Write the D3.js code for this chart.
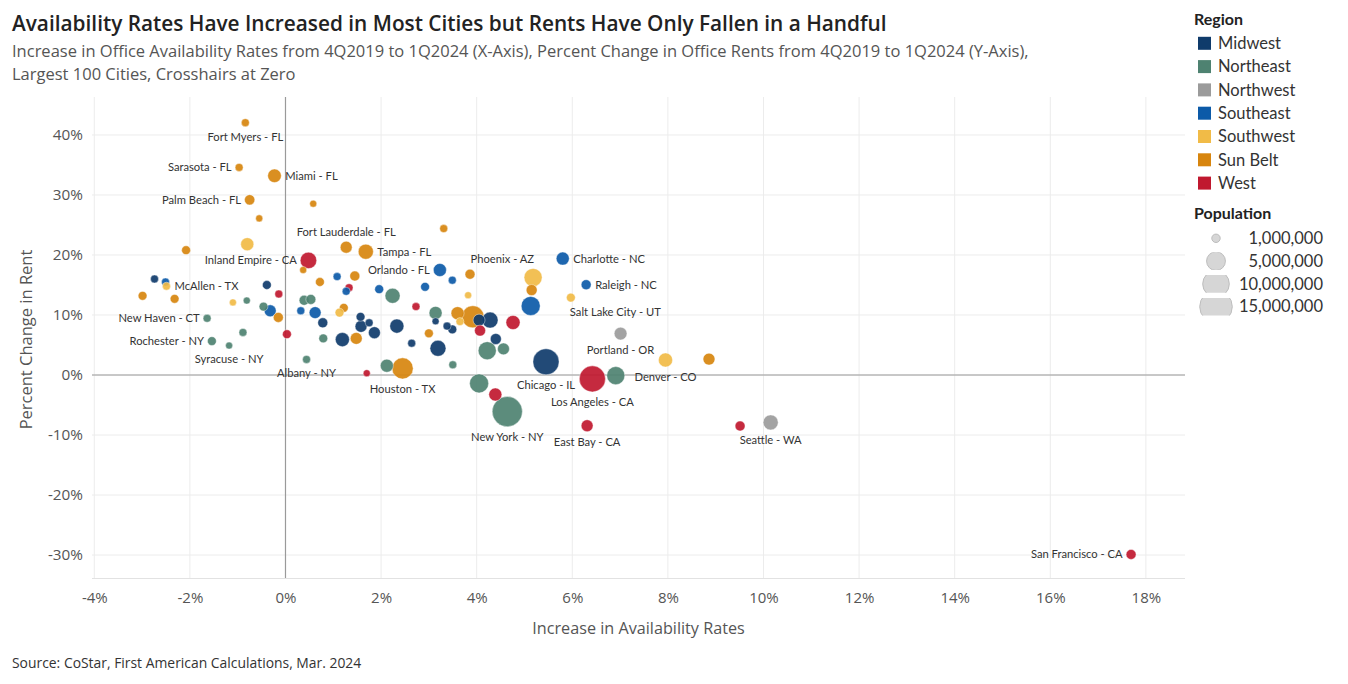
<!DOCTYPE html>
<html>
<head>
<meta charset="utf-8">
<script src="https://cdn.jsdelivr.net/npm/d3@7"></script>
<style>
  html, body { margin: 0; padding: 0; background: #fff; }
  svg { display: block; font-family: Lato, "Open Sans", sans-serif; }
</style>
</head>
<body>
<svg id="chart" width="1348" height="684"></svg>
<script>
// ---------------- DATA ----------------
const regionNames = ["Midwest", "Northeast", "Northwest", "Southeast", "Southwest", "Sun Belt", "West"];
const regionColors = ["#0f3b6b", "#4e8271", "#9b9b9b", "#0c5aa8", "#f1bb47", "#d7850e", "#c0182f"];

const cities = [
  "Fort Myers - FL", "Sarasota - FL", "Miami - FL", "Palm Beach - FL", "", "", "", "", "Inland Empire - CA", "",
  "", "", "McAllen - TX", "", "", "", "", "", "", "",
  "", "", "New Haven - CT", "", "Rochester - NY", "Syracuse - NY", "", "Albany - NY", "", "",
  "", "", "", "", "", "", "", "Fort Lauderdale - FL", "Tampa - FL", "",
  "", "", "", "", "", "", "", "", "", "",
  "", "", "", "", "", "Houston - TX", "", "", "Orlando - FL", "",
  "", "", "", "", "", "", "", "", "", "",
  "", "", "", "", "", "", "", "", "", "",
  "", "", "New York - NY", "Phoenix - AZ", "", "", "Charlotte - NC", "Raleigh - NC", "Salt Lake City - UT", "Portland - OR",
  "Chicago - IL", "Los Angeles - CA", "", "Denver - CO", "", "East Bay - CA", "", "Seattle - WA", "San Francisco - CA"
];
const regions = [
  "Sun Belt", "Sun Belt", "Sun Belt", "Sun Belt", "Sun Belt", "Sun Belt", "Southwest", "Sun Belt", "West", "Sun Belt",
  "Midwest", "Southeast", "Southwest", "Sun Belt", "Sun Belt", "Midwest", "West", "Southwest", "Northeast", "Northeast",
  "Southeast", "Sun Belt", "Northeast", "Northeast", "Northeast", "Northeast", "West", "Northeast", "Northeast", "Northeast",
  "Southeast", "Southeast", "Midwest", "Northeast", "Sun Belt", "Southeast", "Sun Belt", "Sun Belt", "Sun Belt", "West",
  "Southeast", "Southeast", "Northeast", "West", "Sun Belt", "Southwest", "Midwest", "Midwest", "Midwest", "Midwest",
  "Midwest", "Midwest", "Sun Belt", "Midwest", "Northeast", "Sun Belt", "West", "Sun Belt", "Southeast", "Sun Belt",
  "Southeast", "Southeast", "Southwest", "Northeast", "Midwest", "Sun Belt", "Sun Belt", "Southwest", "Midwest", "Midwest",
  "West", "West", "Midwest", "Midwest", "Sun Belt", "Midwest", "Midwest", "Northeast", "Northeast", "Northeast",
  "Northeast", "West", "Northeast", "Southwest", "Sun Belt", "Southeast", "Southeast", "Southeast", "Southwest", "Northwest",
  "Midwest", "West", "Northeast", "Southwest", "Sun Belt", "West", "West", "Northwest", "West"
];
// Increase in availability rate (percentage points)
const availChange = [
  -0.84, -0.97, -0.23, -0.75, 0.58, -0.55, -0.80, -2.08, 0.48, 0.37,
  -2.74, -2.51, -2.49, -2.99, -2.32, -0.39, -0.14, -1.10, -0.81, -0.46,
  -0.32, -0.15, -1.64, -0.89, -1.54, -1.18, 0.03, 0.44, 0.39, 0.53,
  0.32, 0.62, 0.78, 0.79, 0.72, 1.08, 1.45, 1.27, 1.68, 1.33,
  1.27, 1.96, 2.24, 2.73, 1.22, 1.13, 1.57, 1.75, 1.58, 1.86,
  2.33, 1.19, 1.48, 2.64, 2.12, 2.45, 1.70, 3.31, 3.23, 3.86,
  3.49, 2.92, 3.82, 3.14, 3.14, 3.60, 3.92, 3.65, 4.05, 4.28,
  4.07, 4.76, 3.38, 3.49, 3.00, 3.19, 4.40, 4.22, 4.56, 3.50,
  4.05, 4.39, 4.64, 5.18, 5.15, 5.13, 5.80, 6.29, 5.97, 7.01,
  5.45, 6.42, 6.91, 7.95, 8.86, 6.31, 9.51, 10.15, 17.69
];
// Percent change in office rents
const rentChange = [
  42.05, 34.6, 33.2, 29.2, 28.55, 26.1, 21.8, 20.8, 19.1, 17.5,
  16.0, 15.5, 14.8, 13.2, 12.7, 15.0, 13.5, 12.1, 12.4, 11.4,
  10.7, 9.6, 9.45, 7.1, 5.65, 4.9, 6.8, 2.6, 12.45, 12.6,
  10.7, 10.4, 8.7, 6.1, 15.5, 16.4, 16.5, 21.3, 20.55, 14.55,
  13.95, 14.3, 13.2, 11.4, 11.2, 10.4, 9.7, 8.7, 8.1, 7.05,
  8.15, 5.9, 6.1, 5.3, 1.55, 1.1, 0.3, 24.4, 17.5, 16.8,
  15.8, 14.7, 13.3, 10.35, 8.95, 10.3, 9.7, 8.9, 9.15, 9.15,
  7.4, 8.75, 8.15, 7.6, 6.95, 4.45, 6.0, 4.05, 4.35, 1.7,
  -1.4, -3.25, -6.1, 16.25, 14.15, 11.5, 19.4, 15.05, 12.9, 6.9,
  2.2, -0.65, -0.1, 2.5, 2.65, -8.45, -8.5, -7.9, -29.9
];
// Population
const population = [
  0.9e6, 0.9e6, 2.6e6, 1.5e6, 0.7e6, 0.7e6, 2.4e6, 1.1e6, 3.8e6, 0.7e6,
  0.9e6, 0.9e6, 0.9e6, 1.1e6, 1.1e6, 1.1e6, 0.9e6, 0.7e6, 0.7e6, 1.1e6,
  2.0e6, 1.4e6, 0.9e6, 0.9e6, 1.1e6, 0.7e6, 1.1e6, 0.9e6, 1.4e6, 1.4e6,
  0.9e6, 2.0e6, 1.4e6, 1.1e6, 1.1e6, 0.9e6, 1.4e6, 2.0e6, 3.2e6, 0.9e6,
  0.9e6, 1.1e6, 3.2e6, 0.9e6, 1.1e6, 1.1e6, 1.1e6, 0.9e6, 2.0e6, 2.0e6,
  2.8e6, 2.8e6, 2.0e6, 0.9e6, 2.4e6, 6.3e6, 0.7e6, 0.9e6, 2.4e6, 1.4e6,
  0.9e6, 1.1e6, 0.7e6, 2.4e6, 0.7e6, 2.4e6, 6.9e6, 0.9e6, 2.0e6, 3.6e6,
  1.7e6, 2.8e6, 0.9e6, 1.1e6, 1.1e6, 3.6e6, 1.7e6, 4.6e6, 2.0e6, 0.9e6,
  5.1e6, 2.4e6, 12.8e6, 4.6e6, 1.7e6, 5.1e6, 2.4e6, 1.4e6, 1.1e6, 2.3e6,
  9.6e6, 9.6e6, 4.6e6, 2.8e6, 2.0e6, 2.0e6, 1.4e6, 3.2e6, 1.4e6
];

const xTicks = [-4, -2, 0, 2, 4, 6, 8, 10, 12, 14, 16, 18];
const yTicks = [-30, -20, -10, 0, 10, 20, 30, 40];
const popLegend = [1e6, 5e6, 10e6, 15e6];

const titleText = "Availability Rates Have Increased in Most Cities but Rents Have Only Fallen in a Handful";
const subtitleLines = [
  "Increase in Office Availability Rates from 4Q2019 to 1Q2024 (X-Axis), Percent Change in Office Rents from 4Q2019 to 1Q2024 (Y-Axis),",
  "Largest 100 Cities, Crosshairs at Zero"
];
const xTitle = "Increase in Availability Rates";
const yTitle = "Percent Change in Rent";
const sourceText = "Source: CoStar, First American Calculations, Mar. 2024";

// label placement (text layout only)
const labelPlacement = {
  "Fort Myers - FL": "below", "Sarasota - FL": "left", "Miami - FL": "right", "Palm Beach - FL": "left",
  "Inland Empire - CA": "left", "McAllen - TX": "right", "New Haven - CT": "left", "Rochester - NY": "left",
  "Syracuse - NY": "below", "Albany - NY": "below", "Fort Lauderdale - FL": "above", "Tampa - FL": "right",
  "Orlando - FL": "left", "Phoenix - AZ": "aboveLeft", "Charlotte - NC": "right", "Raleigh - NC": "right",
  "Salt Lake City - UT": "belowRight", "Portland - OR": "below", "Houston - TX": "below", "Chicago - IL": "below",
  "Los Angeles - CA": "below", "Denver - CO": "below", "New York - NY": "below", "East Bay - CA": "below",
  "Seattle - WA": "below", "San Francisco - CA": "left"
};

// ---------------- CHART ----------------
const svg = d3.select("#chart");
const plot = { left: 92, right: 1185, top: 97, bottom: 578 };
const OS = "'Open Sans', Lato, sans-serif";

const x = d3.scaleLinear().domain([-4.048, 18.818]).range([plot.left, plot.right]);
const y = d3.scaleLinear().domain([-33.83, 46.33]).range([plot.bottom, plot.top]);
const r = d3.scaleSqrt().domain([0, 15e6]).range([0, 16.3]);
const color = d3.scaleOrdinal().domain(regionNames).range(regionColors);

const data = cities.map((c, i) => ({
  city: c, region: regions[i], x: availChange[i], y: rentChange[i], pop: population[i]
}));

// gridlines
const grid = svg.append("g");
grid.selectAll("line.vx").data(xTicks).join("line")
  .attr("x1", d => x(d)).attr("x2", d => x(d))
  .attr("y1", plot.top).attr("y2", plot.bottom)
  .attr("stroke", "#ececec").attr("stroke-width", 1);
grid.selectAll("line.hy").data(yTicks).join("line")
  .attr("x1", plot.left).attr("x2", plot.right)
  .attr("y1", d => y(d)).attr("y2", d => y(d))
  .attr("stroke", "#ececec").attr("stroke-width", 1);

// bottom axis line
svg.append("line").attr("x1", plot.left).attr("x2", plot.right)
  .attr("y1", plot.bottom + 0.5).attr("y2", plot.bottom + 0.5)
  .attr("stroke", "#e2e2e2");

// crosshairs
svg.append("line").attr("x1", x(0)).attr("x2", x(0)).attr("y1", plot.top).attr("y2", plot.bottom)
  .attr("stroke", "#9a9a9a").attr("stroke-width", 1.2);
svg.append("line").attr("x1", plot.left).attr("x2", plot.right).attr("y1", y(0)).attr("y2", y(0))
  .attr("stroke", "#9a9a9a").attr("stroke-width", 1.2);

// axes (labels only)
const xAxis = d3.axisBottom(x).tickValues(xTicks).tickFormat(d => d + "%").tickSize(0).tickPadding(14);
const gx = svg.append("g").attr("transform", `translate(0,${plot.bottom})`).call(xAxis);
gx.select(".domain").remove();
gx.selectAll("text").attr("fill", "#555").attr("font-size", 15).attr("font-family", OS);

const yAxis = d3.axisLeft(y).tickValues(yTicks).tickFormat(d => d + "%").tickSize(0).tickPadding(9);
const gy = svg.append("g").attr("transform", `translate(${plot.left},0)`).call(yAxis);
gy.select(".domain").remove();
gy.selectAll("text").attr("fill", "#555").attr("font-size", 15.3).attr("font-family", OS);

// axis titles
svg.append("text").attr("x", (plot.left + plot.right) / 2).attr("y", 634)
  .attr("text-anchor", "middle").attr("fill", "#555").attr("font-size", 16.2).attr("font-family", OS).text(xTitle);
svg.append("text").attr("transform", `translate(32,${(plot.top + plot.bottom) / 2 + 2}) rotate(-90)`)
  .attr("text-anchor", "middle").attr("fill", "#555").attr("font-size", 16.5).attr("font-family", OS).text(yTitle);

// bubbles
const sorted = data.slice().sort((a, b) => b.pop - a.pop);
svg.append("g").selectAll("circle").data(sorted).join("circle")
  .attr("cx", d => x(d.x)).attr("cy", d => y(d.y)).attr("r", d => r(d.pop))
  .attr("fill", d => color(d.region)).attr("fill-opacity", 0.92)
  .attr("stroke", "#fff").attr("stroke-opacity", 0.5).attr("stroke-width", 0.8);

// labels
const lab = svg.append("g").attr("font-size", 11.2).attr("fill", "#333");
data.filter(d => d.city).forEach(d => {
  const cx = x(d.x), cy = y(d.y), rr = r(d.pop);
  const p = labelPlacement[d.city] || "right";
  let tx = cx, ty = cy, anchor = "middle";
  if (p === "left") { tx = cx - rr - 3.5; anchor = "end"; }
  else if (p === "right") { tx = cx + rr + 4; anchor = "start"; }
  else if (p === "below") { ty = cy + rr + 10; }
  else if (p === "above") { ty = cy - rr - 9; }
  else if (p === "aboveLeft") { tx = cx + 1; ty = cy - 18.5; anchor = "end"; }
  else if (p === "belowRight") { tx = cx - 1; ty = cy + 14.5; anchor = "start"; }
  lab.append("text").attr("x", tx).attr("y", ty).attr("dy", "0.35em")
    .attr("text-anchor", anchor).text(d.city);
});

// title
svg.append("text").attr("x", 12).attr("y", 31).attr("font-size", 20.8).attr("font-weight", 600)
  .attr("font-family", OS).attr("fill", "#222").text(titleText);
svg.append("g").selectAll("text").data(subtitleLines).join("text")
  .attr("x", 12).attr("y", (d, i) => 57 + i * 23).attr("font-size", 16.5).attr("font-family", OS)
  .attr("fill", "#555").text(d => d);

// source
svg.append("text").attr("x", 12).attr("y", 668).attr("font-size", 13.9).attr("font-family", OS)
  .attr("fill", "#333").text(sourceText);

// legend: region
const lg = svg.append("g");
lg.append("text").attr("x", 1194).attr("y", 25).attr("font-size", 16).attr("font-weight", 700)
  .attr("fill", "#222").text("Region");
regionNames.forEach((name, i) => {
  const cy = 43.3 + i * 23.3;
  lg.append("rect").attr("x", 1198).attr("y", cy - 6.5).attr("width", 13).attr("height", 13).attr("fill", color(name));
  lg.append("text").attr("x", 1218).attr("y", cy).attr("dy", "0.35em").attr("font-size", 16.5)
    .attr("fill", "#333").text(name);
});

// legend: population
lg.append("text").attr("x", 1194).attr("y", 219).attr("font-size", 16).attr("font-weight", 700)
  .attr("fill", "#222").text("Population");
const defs = svg.append("defs");
popLegend.forEach((p, i) => {
  const cy = 238.3 + i * 22.8;
  defs.append("clipPath").attr("id", "pc" + i).append("rect")
    .attr("x", 1190).attr("y", cy - 8.8).attr("width", 60).attr("height", 17.6);
  lg.append("circle").attr("cx", 1216).attr("cy", cy).attr("r", r(p))
    .attr("fill", "#d6d6d6").attr("stroke", "#bdbdbd").attr("stroke-width", 1)
    .attr("clip-path", `url(#pc${i})`);
  lg.append("text").attr("x", 1323).attr("y", cy).attr("dy", "0.35em").attr("text-anchor", "end")
    .attr("font-size", 16.5).attr("fill", "#333").text(d3.format(",")(p));
});
</script>
</body>
</html>
